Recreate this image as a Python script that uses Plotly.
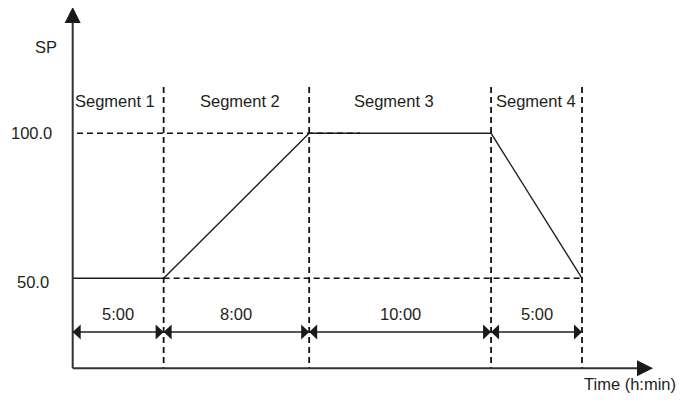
import plotly.graph_objects as go

# ---------------- data ----------------
seg_names = ["Segment 1", "Segment 2", "Segment 3", "Segment 4"]
seg_durations = [5, 8, 10, 5]            # minutes
seg_time_labels = ["5:00", "8:00", "10:00", "5:00"]
profile_time = [0, 5, 13, 23, 28]
profile_sp = [50, 50, 100, 100, 50]
sp_tick_vals = [50, 100]
sp_tick_text = ["50.0", "100.0"]
y_title = "SP"
x_title = "Time (h:min)"

# ---------------- geometry helpers (page pixel -> data) ----------------
PAGE_W, PAGE_H = 685, 403
BODY_MARGIN = 8                        # default html body margin
W, H = PAGE_W - BODY_MARGIN, PAGE_H - BODY_MARGIN
X0PX, KX = 72.7, 18.19      # page pixel of t=0, px per minute
Y50PX, KY = 278.3, 2.9      # page pixel of SP=50, px per SP unit


def xd(px):
    return (px - X0PX) / KX


def yd(py):
    return 50 + (Y50PX - py) / KY


bounds = [0]
for d in seg_durations:
    bounds.append(bounds[-1] + d)

TXT = "#231f20"
AX = "#333333"
FONT = dict(family="Liberation Sans, Arial, sans-serif", size=16.5, color=TXT)

fig = go.Figure()
fig.add_trace(go.Scatter(x=profile_time, y=profile_sp, mode="lines",
                         line=dict(color=TXT, width=1.4), hoverinfo="skip"))

shapes = []
dash = "6px,4px"
# vertical dashed segment boundaries
for b in bounds[1:]:
    shapes.append(dict(type="line", x0=b, x1=b, y0=yd(87), y1=yd(368.3),
                       line=dict(color="#111", width=1.8, dash=dash)))
# horizontal dashed guides
shapes.append(dict(type="line", x0=xd(77), x1=xd(360), y0=100, y1=100,
                   line=dict(color="#111", width=1.5, dash=dash)))
shapes.append(dict(type="line", x0=bounds[1], x1=bounds[-1], y0=50, y1=50,
                   line=dict(color="#111", width=1.5, dash=dash)))
# axes
yaxis_base = yd(368.3)
shapes.append(dict(type="line", x0=0, x1=0, y0=yaxis_base, y1=yd(22),
                   line=dict(color=AX, width=2)))
shapes.append(dict(type="line", x0=0, x1=xd(639), y0=yaxis_base, y1=yaxis_base,
                   line=dict(color=AX, width=2)))
shapes.append(dict(type="path", xsizemode="pixel", ysizemode="pixel",
                   xanchor=0, yanchor=yd(7), path="M0,0 L-8,-16 L8,-16 Z",
                   fillcolor="#1a1a1a", line=dict(width=0)))
shapes.append(dict(type="path", xsizemode="pixel", ysizemode="pixel",
                   xanchor=xd(653), yanchor=yaxis_base, path="M0,0 L-16,8 L-16,-8 Z",
                   fillcolor="#1a1a1a", line=dict(width=0)))
# dimension arrows
ydim = yd(332)
for i in range(len(seg_durations)):
    a, b = bounds[i], bounds[i + 1]
    shapes.append(dict(type="line", x0=a, x1=b, y0=ydim, y1=ydim,
                       line=dict(color=TXT, width=1.3)))
    shapes.append(dict(type="path", xsizemode="pixel", ysizemode="pixel",
                       xanchor=a, yanchor=ydim, path="M0,0 L8,7.5 L8,-7.5 Z",
                       fillcolor="#1a1a1a", line=dict(width=0)))
    shapes.append(dict(type="path", xsizemode="pixel", ysizemode="pixel",
                       xanchor=b, yanchor=ydim, path="M0,0 L-8,7.5 L-8,-7.5 Z",
                       fillcolor="#1a1a1a", line=dict(width=0)))

ann = []
seg_label_px = [115, 240, 394, 536]
for name, px in zip(seg_names, seg_label_px):
    ann.append(dict(x=xd(px), y=yd(100.5), text=name, showarrow=False,
                    xanchor="center", yanchor="middle", font=FONT))
for i, lab in enumerate(seg_time_labels):
    ann.append(dict(x=(bounds[i] + bounds[i + 1]) / 2, y=yd(313.5), text=lab,
                    showarrow=False, xanchor="center", yanchor="middle", font=FONT))
tick_px_y = {50: 281.5, 100: 133.3}
tick_px_right = {50: 51, 100: 53.5}
for v, t in zip(sp_tick_vals, sp_tick_text):
    ann.append(dict(x=xd(tick_px_right[v]), y=yd(tick_px_y[v]), text=t, showarrow=False,
                    xanchor="right", yanchor="middle", font=FONT))
ann.append(dict(x=xd(46), y=yd(47), text=y_title, showarrow=False,
                xanchor="center", yanchor="middle", font=FONT))
ann.append(dict(x=xd(630), y=yd(383.5), text=x_title, showarrow=False,
                xanchor="center", yanchor="middle", font=FONT))

fig.update_layout(
    width=W, height=H,
    margin=dict(l=0, r=0, t=0, b=0),
    paper_bgcolor="white", plot_bgcolor="white",
    showlegend=False,
    xaxis=dict(range=[xd(BODY_MARGIN), xd(PAGE_W)], visible=False, fixedrange=True),
    yaxis=dict(range=[yd(PAGE_H), yd(BODY_MARGIN)], visible=False, fixedrange=True),
    shapes=shapes, annotations=ann,
)

fig.write_html("out.html")
